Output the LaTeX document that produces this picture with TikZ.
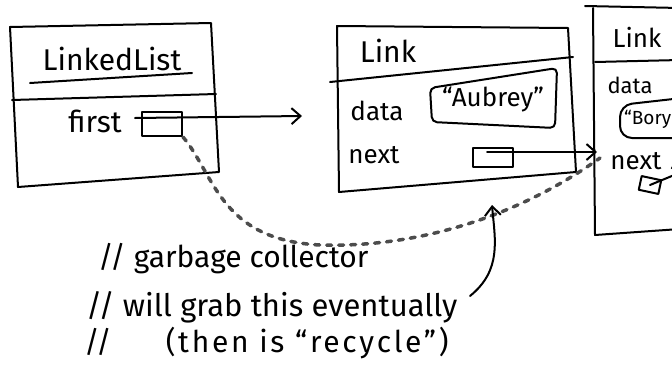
\documentclass[tikz,border=0pt]{standalone}
\usepackage{fontspec}
\setmainfont{Fira Sans}
\usetikzlibrary{arrows.meta}
\begin{document}
\begin{tikzpicture}[x=1pt,y=-1pt,
  ink/.style={line width=2pt, line join=round, line cap=round},
  lbl/.style={inner sep=0pt},
  big/.style={font=\fontsize{30}{34}\selectfont},
  mid/.style={font=\fontsize{26}{30}\selectfont},
  small/.style={font=\fontsize{22}{26}\selectfont},
  note/.style={inner sep=0pt, anchor=base west, font=\fontsize{30}{34}\selectfont},
  ptr/.style={ink, draw, inner sep=0pt},
  tip/.style={-{Straight Barb[length=9pt,width=16pt,line width=2pt]}},
  erased/.style={line width=3.5pt, black!70, dash pattern=on 5pt off 7pt, line cap=round}]
\useasboundingbox (0,0) rectangle (672,370);
\clip (0,0) rectangle (672,370);

% LinkedList object
\draw[ink] (10,27) -- (211,23) -- (219,172) -- (18,187) -- cycle;
\draw[ink] (12,100) -- (216,94);
\node[lbl, big] (ll) at (112,59) {LinkedList};
\draw[ink] (30,83) -- (192,73);
\node[lbl, big] (first) at (95,121) {first};
\node[ptr, minimum width=40pt, minimum height=24pt] (p1) at (162,124) {};
\coordinate (s1) at (135,118);
\coordinate (a1) at (302,116);
\draw[ink, tip] (s1) -- (a1);

% middle Link object
\draw[ink] (337,26) -- (568,28) -- (576,172) -- (339,192) -- cycle;
\draw[ink] (330,82) -- (573,57);
\node[lbl, big] (link1) at (388,51) {Link};
\node[lbl, mid] (data1) at (377,111) {data};
\draw[ink, rounded corners=5pt] (430,88) -- (557,68) -- (555,128) -- (432,122) -- cycle;
\node[lbl, mid] (aub) at (493,99) {“Aubrey”};
\node[lbl, mid] (next1) at (374,155) {next};
\node[ptr, minimum width=40pt, minimum height=19pt] (p2) at (493,157) {};
\coordinate (s2) at (487,152);
\coordinate (a2) at (597,152);
\draw[ink, tip] (s2) -- (a2);

% right Link object (cut off)
\draw[ink] (585,6) -- (680,8);
\draw[ink] (593,8) -- (595,235) -- (680,229);
\draw[ink] (595,62) -- (680,60);
\node[lbl, mid] (link2) at (637,37) {Link};
\node[lbl, small] (data2) at (630,85) {data};
\draw[ink, rounded corners=12pt] (620,105) -- (700,96) -- (700,138) -- (620,138) -- cycle;
\node[lbl, font=\fontsize{19}{22}\selectfont, anchor=west] (bory) at (624,119) {“Bory};
\node[lbl, mid] (next2) at (636,161) {next};
\node[ptr, minimum width=20pt, minimum height=14pt, rotate=-12] (p3) at (650,185) {};
\coordinate (a3) at (684,171);
\draw[ink, tip] (p3.center) -- (a3);

% erased reference
\coordinate (c1) at (320,245);
\coordinate (e1) at (600,158);
\draw[erased] (p1.south east) .. controls (215,175) and (220,240) .. (c1)
  .. controls (420,248) and (520,215) .. (e1);

% comment
\node[note] (n1) at (98,267) {// garbage collector};
\node[note, font=\fontsize{31}{34}\selectfont] (n2) at (86,316) {// will grab this eventually};
\node[note] (n3) at (84,352) {//\hspace{54pt}\addfontfeatures{LetterSpace=9}(then is “recycle”)};

% arrow from the comment
\coordinate (s4) at (470,296);
\coordinate (t4) at (492,205);
\draw[ink, tip] (s4) .. controls (502,270) and (495,240) .. (t4);
\end{tikzpicture}
\end{document}
